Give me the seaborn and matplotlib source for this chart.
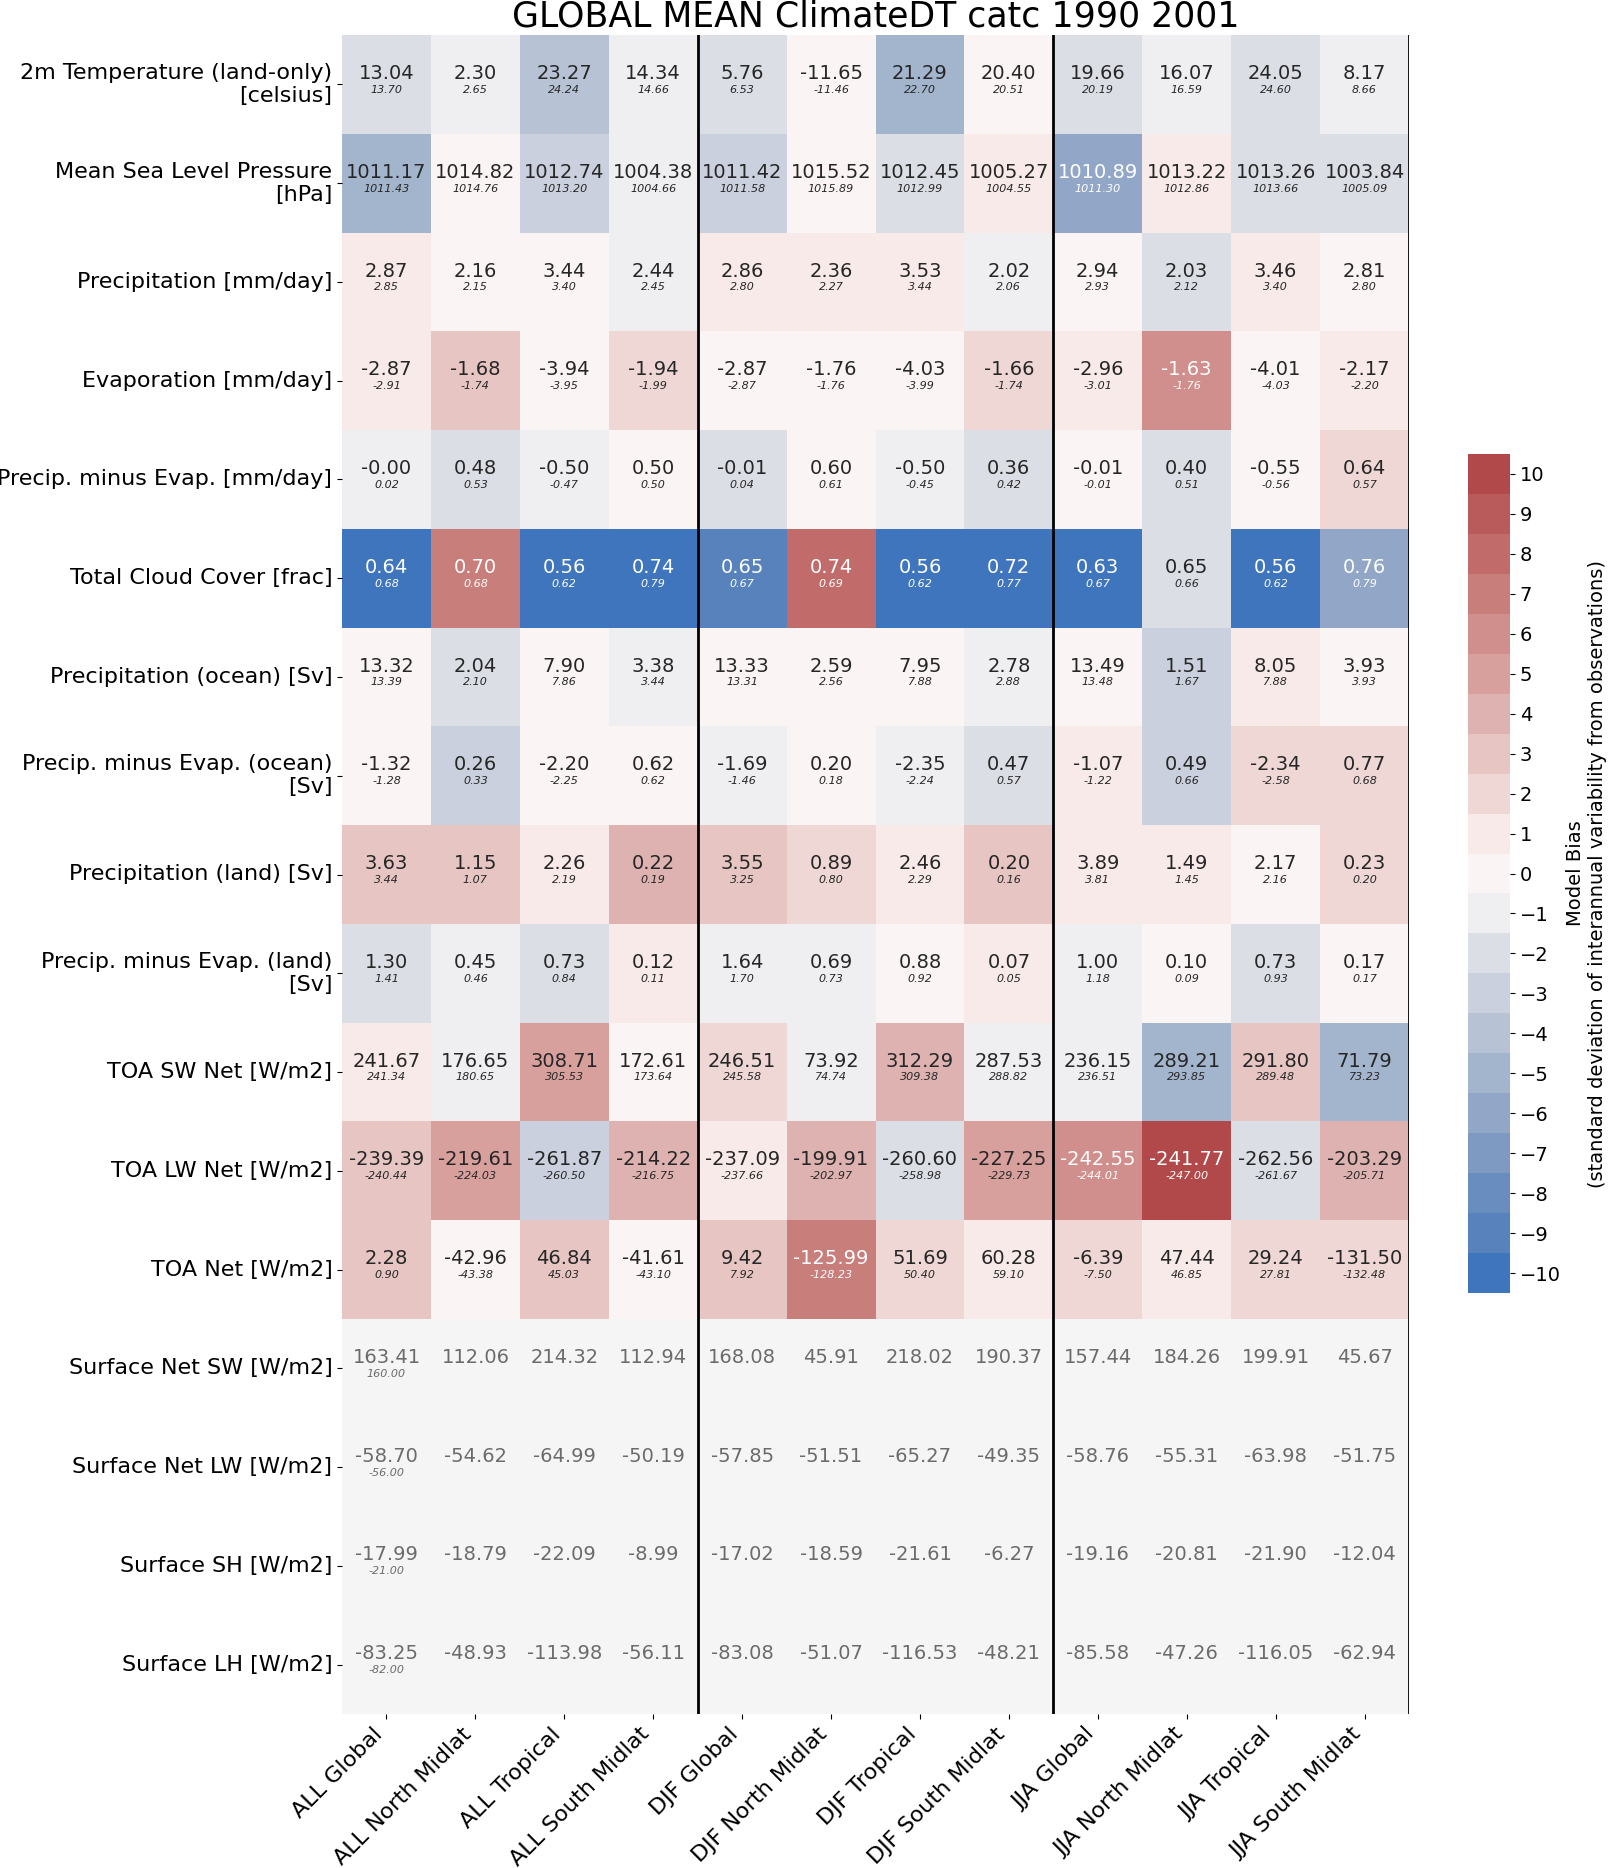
import numpy as np
import pandas as pd
import matplotlib
matplotlib.use("Agg")
import matplotlib.pyplot as plt
import seaborn as sns

nan = np.nan

variables = [
    "2m Temperature (land-only)\n[celsius]",
    "Mean Sea Level Pressure\n[hPa]",
    "Precipitation [mm/day]",
    "Evaporation [mm/day]",
    "Precip. minus Evap. [mm/day]",
    "Total Cloud Cover [frac]",
    "Precipitation (ocean) [Sv]",
    "Precip. minus Evap. (ocean)\n[Sv]",
    "Precipitation (land) [Sv]",
    "Precip. minus Evap. (land)\n[Sv]",
    "TOA SW Net [W/m2]",
    "TOA LW Net [W/m2]",
    "TOA Net [W/m2]",
    "Surface Net SW [W/m2]",
    "Surface Net LW [W/m2]",
    "Surface SH [W/m2]",
    "Surface LH [W/m2]",
]

regions = [
    "ALL Global", "ALL North Midlat", "ALL Tropical", "ALL South Midlat",
    "DJF Global", "DJF North Midlat", "DJF Tropical", "DJF South Midlat",
    "JJA Global", "JJA North Midlat", "JJA Tropical", "JJA South Midlat",
]

# model means (big number in each cell)
model_mean = [
    [13.04, 2.30, 23.27, 14.34, 5.76, -11.65, 21.29, 20.40, 19.66, 16.07, 24.05, 8.17],
    [1011.17, 1014.82, 1012.74, 1004.38, 1011.42, 1015.52, 1012.45, 1005.27, 1010.89, 1013.22, 1013.26, 1003.84],
    [2.87, 2.16, 3.44, 2.44, 2.86, 2.36, 3.53, 2.02, 2.94, 2.03, 3.46, 2.81],
    [-2.87, -1.68, -3.94, -1.94, -2.87, -1.76, -4.03, -1.66, -2.96, -1.63, -4.01, -2.17],
    [-0.0, 0.48, -0.50, 0.50, -0.01, 0.60, -0.50, 0.36, -0.01, 0.40, -0.55, 0.64],
    [0.64, 0.70, 0.56, 0.74, 0.65, 0.74, 0.56, 0.72, 0.63, 0.65, 0.56, 0.76],
    [13.32, 2.04, 7.90, 3.38, 13.33, 2.59, 7.95, 2.78, 13.49, 1.51, 8.05, 3.93],
    [-1.32, 0.26, -2.20, 0.62, -1.69, 0.20, -2.35, 0.47, -1.07, 0.49, -2.34, 0.77],
    [3.63, 1.15, 2.26, 0.22, 3.55, 0.89, 2.46, 0.20, 3.89, 1.49, 2.17, 0.23],
    [1.30, 0.45, 0.73, 0.12, 1.64, 0.69, 0.88, 0.07, 1.00, 0.10, 0.73, 0.17],
    [241.67, 176.65, 308.71, 172.61, 246.51, 73.92, 312.29, 287.53, 236.15, 289.21, 291.80, 71.79],
    [-239.39, -219.61, -261.87, -214.22, -237.09, -199.91, -260.60, -227.25, -242.55, -241.77, -262.56, -203.29],
    [2.28, -42.96, 46.84, -41.61, 9.42, -125.99, 51.69, 60.28, -6.39, 47.44, 29.24, -131.50],
    [163.41, 112.06, 214.32, 112.94, 168.08, 45.91, 218.02, 190.37, 157.44, 184.26, 199.91, 45.67],
    [-58.70, -54.62, -64.99, -50.19, -57.85, -51.51, -65.27, -49.35, -58.76, -55.31, -63.98, -51.75],
    [-17.99, -18.79, -22.09, -8.99, -17.02, -18.59, -21.61, -6.27, -19.16, -20.81, -21.90, -12.04],
    [-83.25, -48.93, -113.98, -56.11, -83.08, -51.07, -116.53, -48.21, -85.58, -47.26, -116.05, -62.94],
]

# observed means (small italic number)
obs_mean = [
    [13.70, 2.65, 24.24, 14.66, 6.53, -11.46, 22.70, 20.51, 20.19, 16.59, 24.60, 8.66],
    [1011.43, 1014.76, 1013.20, 1004.66, 1011.58, 1015.89, 1012.99, 1004.55, 1011.30, 1012.86, 1013.66, 1005.09],
    [2.85, 2.15, 3.40, 2.45, 2.80, 2.27, 3.44, 2.06, 2.93, 2.12, 3.40, 2.80],
    [-2.91, -1.74, -3.95, -1.99, -2.87, -1.76, -3.99, -1.74, -3.01, -1.76, -4.03, -2.20],
    [0.02, 0.53, -0.47, 0.50, 0.04, 0.61, -0.45, 0.42, -0.01, 0.51, -0.56, 0.57],
    [0.68, 0.68, 0.62, 0.79, 0.67, 0.69, 0.62, 0.77, 0.67, 0.66, 0.62, 0.79],
    [13.39, 2.10, 7.86, 3.44, 13.31, 2.56, 7.88, 2.88, 13.48, 1.67, 7.88, 3.93],
    [-1.28, 0.33, -2.25, 0.62, -1.46, 0.18, -2.24, 0.57, -1.22, 0.66, -2.58, 0.68],
    [3.44, 1.07, 2.19, 0.19, 3.25, 0.80, 2.29, 0.16, 3.81, 1.45, 2.16, 0.20],
    [1.41, 0.46, 0.84, 0.11, 1.70, 0.73, 0.92, 0.05, 1.18, 0.09, 0.93, 0.17],
    [241.34, 180.65, 305.53, 173.64, 245.58, 74.74, 309.38, 288.82, 236.51, 293.85, 289.48, 73.23],
    [-240.44, -224.03, -260.50, -216.75, -237.66, -202.97, -258.98, -229.73, -244.01, -247.00, -261.67, -205.71],
    [0.90, -43.38, 45.03, -43.10, 7.92, -128.23, 50.40, 59.10, -7.50, 46.85, 27.81, -132.48],
    [160.00, nan, nan, nan, nan, nan, nan, nan, nan, nan, nan, nan],
    [-56.00, nan, nan, nan, nan, nan, nan, nan, nan, nan, nan, nan],
    [-21.00, nan, nan, nan, nan, nan, nan, nan, nan, nan, nan, nan],
    [-82.00, nan, nan, nan, nan, nan, nan, nan, nan, nan, nan, nan],
]

# bias in units of interannual std
bias_std = [
    [-2, -1, -4, -1, -2, 0, -5, 0, -2, -1, -2, -1],
    [-5, 0, -3, -1, -3, 0, -2, 1, -6, 1, -2, -2],
    [1, 0, 0, -1, 1, 1, 1, -1, 0, -2, 1, 0],
    [1, 3, 0, 2, 0, 0, 0, 2, 1, 6, 0, 1],
    [-1, -2, -1, 0, -2, 0, -1, -2, 0, -2, 0, 2],
    [-10, 7, -10, -10, -9, 8, -10, -10, -10, -2, -10, -6],
    [0, -2, 0, -1, 0, 0, 0, -1, 0, -3, 1, 0],
    [0, -3, 0, 0, -1, 0, -1, -2, 1, -3, 2, 2],
    [3, 3, 1, 4, 3, 2, 1, 3, 1, 1, 0, 2],
    [-2, -1, -2, 1, -1, -1, 0, 1, -1, 0, -2, 0],
    [1, -1, 5, 0, 2, -1, 4, -1, -1, -5, 3, -5],
    [3, 5, -3, 4, 1, 4, -2, 5, 6, 10, -2, 4],
    [3, 0, 3, 0, 3, 7, 2, 1, 2, 1, 2, 2],
    [nan] * 12,
    [nan] * 12,
    [nan] * 12,
    [nan] * 12,
]

df_bias = pd.DataFrame(bias_std, index=variables, columns=regions, dtype=float)
model = np.array(model_mean)
obs = np.array(obs_mean)

W, H = 1614, 1868
fig = plt.figure(figsize=(W / 100, H / 100), dpi=100)
ax = fig.add_axes([342 / W, 1 - 1714 / H, 1067 / W, 1679 / H])
cax = fig.add_axes([1468 / W, 1 - 1293 / H, 42 / W, 839 / H])
ax.set_facecolor("whitesmoke")

palette = sns.color_palette("vlag", 21)
sns.heatmap(df_bias, ax=ax, cbar_ax=cax, cmap=palette, vmin=-10.5, vmax=10.5,
            cbar_kws={"ticks": list(range(-10, 11))})

cmap = ax.collections[0].cmap
norm = ax.collections[0].norm

# two-line annotation: model value on top, observation below
for i in range(model.shape[0]):
    for j in range(model.shape[1]):
        b = df_bias.iat[i, j]
        if np.isnan(b):
            col = "#6b6b6b"
        else:
            lum = sns.utils.relative_luminance(cmap(norm(b)))
            col = ".15" if lum > .408 else "w"
        ax.text(j + 0.5, i + 0.39, f"{model[i, j]:.2f}", ha="center", va="center",
                fontsize=14, color=col)
        if not np.isnan(obs[i, j]):
            ax.text(j + 0.5, i + 0.555, f"{obs[i, j]:.2f}", ha="center", va="center",
                    fontsize=8, style="italic", color=col)

for x in (4, 8, 12):
    ax.axvline(x, color="k", lw=2)

ax.set_title("GLOBAL MEAN ClimateDT catc 1990 2001", fontsize=25)
ax.set_xlabel("")
ax.set_ylabel("")
ax.tick_params(axis="both", labelsize=16)
plt.setp(ax.get_yticklabels(), rotation=0)
plt.setp(ax.get_xticklabels(), rotation=45, ha="right")

cax.tick_params(labelsize=14)
cax.set_ylabel("Model Bias\n(standard deviation of interannual variability from observations)",
               fontsize=14)

fig.savefig("out.png", dpi=100)
